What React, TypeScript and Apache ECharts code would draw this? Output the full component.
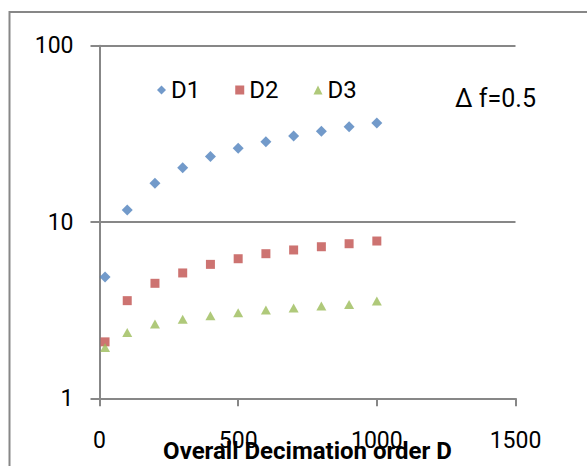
import React, { useEffect, useRef } from "react";
import * as echarts from "echarts";

const xValues = [20, 100, 200, 300, 400, 500, 600, 700, 800, 900, 1000];
const d1Values = [4.88, 11.7, 16.6, 20.3, 23.5, 26.2, 28.5, 30.7, 32.7, 34.7, 36.4];
const d2Values = [2.09, 3.58, 4.49, 5.14, 5.75, 6.19, 6.61, 6.94, 7.24, 7.53, 7.8];
const d3Values = [1.94, 2.36, 2.64, 2.81, 2.94, 3.06, 3.17, 3.25, 3.34, 3.41, 3.56];
const seriesNames = ["D1", "D2", "D3"];
const xTitle = "Overall Decimation order D";
const annotation = "\u0394 f=0.5";

const GRAY = "#878787";
const FONT = "Roboto";

export default function App() {
  const ref = useRef<HTMLDivElement>(null);
  useEffect(() => {
    if (!ref.current) return;
    const chart = echarts.init(ref.current, null, { renderer: "svg" });
    const pairs = (ys: number[]) => xValues.map((x, i) => [x, ys[i]]);
    chart.setOption({
      animation: false,
      backgroundColor: "#ffffff",
      textStyle: { fontFamily: FONT },
      grid: {
        left: 99.5,
        top: 45.7,
        right: 71.5,
        bottom: 67.7,
        containLabel: false,
        outerBoundsMode: "none",
      },
      legend: {
        data: seriesNames,
        left: 152,
        top: 73,
        itemWidth: 9,
        itemHeight: 9,
        itemGap: 35,
        textStyle: { fontSize: 24, color: "#000", fontFamily: FONT },
      },
      xAxis: {
        type: "value",
        min: 0,
        max: 1500,
        interval: 500,
        axisLine: { show: true, lineStyle: { color: GRAY, width: 2 } },
        axisTick: { show: true, inside: false, length: 8, lineStyle: { color: GRAY, width: 2 } },
        axisLabel: {
          fontSize: 23,
          color: "#000",
          margin: 31,
          fontFamily: FONT,
          formatter: (v: number) => String(v),
        },
        splitLine: { show: false },
        name: xTitle,
        nameLocation: "middle",
        nameGap: 41,
        nameMoveOverlap: false,
        nameTextStyle: {
          fontSize: 24,
          fontWeight: "bold",
          color: "#000",
          fontFamily: FONT,
        },
      },
      yAxis: {
        type: "log",
        logBase: 10,
        min: 1,
        max: 100,
        axisLine: { show: true, lineStyle: { color: GRAY, width: 2 } },
        axisTick: { show: true, inside: false, length: 9, lineStyle: { color: GRAY, width: 2 } },
        axisLabel: {
          fontSize: 23,
          color: "#000",
          margin: 26,
          fontFamily: FONT,
          formatter: (v: number) => String(v),
        },
        splitLine: { show: true, lineStyle: { color: GRAY, width: 2 } },
        minorTick: { show: false },
      },
      graphic: [
        {
          type: "rect",
          shape: { x: 9.5, y: 12, width: 700, height: 600 },
          style: { fill: "none", stroke: GRAY, lineWidth: 2 },
          silent: true,
        },
        {
          type: "text",
          left: 455,
          top: 86,
          style: { text: annotation, fontSize: 25, fill: "#000", fontFamily: FONT },
        },
      ],
      series: [
        {
          name: seriesNames[0],
          type: "scatter",
          symbol: "diamond",
          symbolSize: 11,
          itemStyle: { color: "#4F81BD" },
          data: pairs(d1Values),
        },
        {
          name: seriesNames[1],
          type: "scatter",
          symbol: "rect",
          symbolSize: 9,
          itemStyle: { color: "#C0504D" },
          data: pairs(d2Values),
        },
        {
          name: seriesNames[2],
          type: "scatter",
          symbol: "triangle",
          symbolSize: [10, 9],
          itemStyle: { color: "#9BBB59" },
          data: pairs(d3Values),
        },
      ],
    });
    return () => chart.dispose();
  }, []);
  return (
    <div
      ref={ref}
      style={{ position: "fixed", left: 0, top: 0, width: 587, height: 466 }}
    />
  );
}
